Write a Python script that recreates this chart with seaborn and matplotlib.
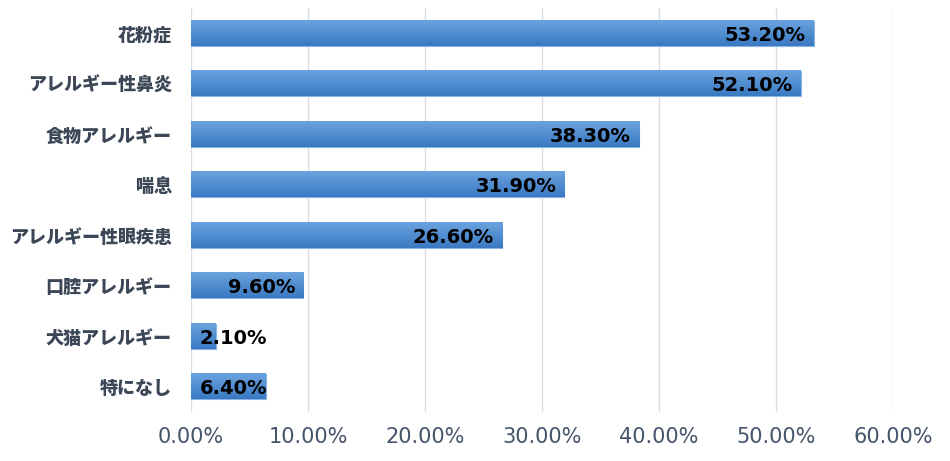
import numpy as np
import pandas as pd
import matplotlib.pyplot as plt
import seaborn as sns
from matplotlib.colors import LinearSegmentedColormap

# survey data
categories = ['花粉症', 'アレルギー性鼻炎', '食物アレルギー', '喘息', 'アレルギー性眼疾患',
              '口腔アレルギー', '犬猫アレルギー', '特になし']
values = [53.2, 52.1, 38.3, 31.9, 26.6, 9.6, 2.1, 6.4]
x_ticks = [0, 10, 20, 30, 40, 50, 60]

df = pd.DataFrame({'category': categories, 'value': values})

sns.set_theme(style='white')
plt.rcParams['font.family'] = ['Noto Sans CJK JP', 'DejaVu Sans']

fig = plt.figure(figsize=(9.5, 4.61), dpi=100)
ax = fig.add_axes([0.2011, 0.1063, 0.739, 0.8763])

sns.barplot(data=df, x='value', y='category', orient='h', color='#4a88cc',
            width=0.5, ax=ax, saturation=1)

# vertical gradient inside each bar (lighter at the top)
grad = LinearSegmentedColormap.from_list('bar', ['#6aa3de', '#3a79c2'])
g = np.linspace(0, 1, 64).reshape(-1, 1)
for p in ax.patches:
    x0, y0 = p.get_x(), p.get_y()
    x1, y1 = x0 + p.get_width(), y0 + p.get_height()
    p.set_edgecolor('#8ab6e6')
    p.set_linewidth(0.8)
    ax.imshow(g, cmap=grad, aspect='auto', origin='upper',
              extent=(x0, x1, y1, y0), zorder=p.get_zorder() + 0.1)

ax.set_xlim(0, 60)
ax.set_ylim(len(categories) - 0.5, -0.5)

# value labels: right-aligned inside the bar, or from the axis when the bar is short
for i, v in enumerate(values):
    txt = f'{v:.2f}%'
    if v < 9:
        ax.text(0.75, i + 0.04, txt, ha='left', va='center', fontsize=14,
                fontweight='bold', color='black', family='DejaVu Sans', zorder=5)
    else:
        ax.text(v - 0.7, i + 0.04, txt, ha='right', va='center', fontsize=14,
                fontweight='bold', color='black', family='DejaVu Sans', zorder=5)

ax.set_xticks(x_ticks)
ax.set_xticklabels([f'{t:.2f}%' for t in x_ticks], family='DejaVu Sans',
                   fontsize=15, color='#44546a')
ax.set_yticks(range(len(categories)))
ax.set_yticklabels(categories, fontsize=13, fontweight='black', color='#3b4656')
ax.tick_params(axis='x', length=0, pad=11)
ax.tick_params(axis='y', length=0, pad=14)

ax.grid(axis='x', color='#d9dee6', linewidth=1)
ax.set_axisbelow(True)
for s in ax.spines.values():
    s.set_visible(False)
ax.set_xlabel('')
ax.set_ylabel('')

plt.savefig('out.png', dpi=100)
plt.close()
